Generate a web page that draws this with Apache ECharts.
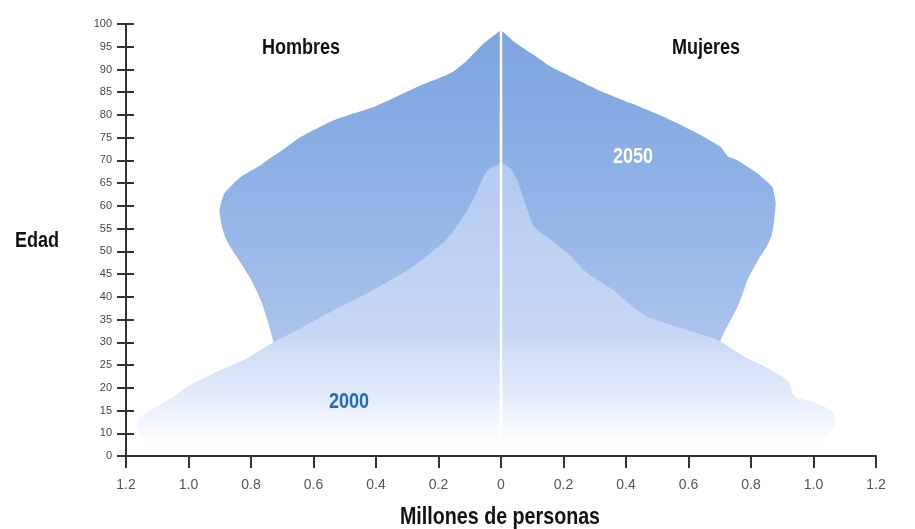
<!DOCTYPE html>
<html>
<head>
<meta charset="utf-8">
<script src="https://cdn.jsdelivr.net/npm/echarts@6/dist/echarts.min.js"></script>
<style>
html,body{margin:0;padding:0;background:#fff;}
#chart{width:915px;height:529px;}
</style>
</head>
<body>
<div id="chart"></div>
<script>
// Tick labels (the original axis skips "5")
const ageTicks = ['0','10','15','20','25','30','35','40','45','50','55','60','65','70','75','80','85','90','95','100'];
const xTicks = ['1.2','1.0','0.8','0.6','0.4','0.2','0','0.2','0.4','0.6','0.8','1.0','1.2'];

// [age, millions], top to bottom
const hombres2050 = [[98.7,0],[95.8,0.054],[92.1,0.107],[89.2,0.16],[86.2,0.267],[84,0.335],[81.8,0.405],[78.9,0.533],[75.2,0.64],[72,0.705],[70.1,0.747],[69,0.768],[66.4,0.832],[62.8,0.885],[59.1,0.901],[55.4,0.893],[53,0.882],[50.5,0.862],[48,0.838],[44.4,0.805],[41,0.78],[38.6,0.765],[35,0.748],[30.5,0.73],[25,0.72],[20,0.71]];
const mujeres2050 = [[98.7,0],[96.1,0.042],[93.6,0.095],[91,0.15],[89.2,0.2],[85.5,0.31],[82.6,0.415],[79.6,0.52],[76,0.628],[73,0.703],[71.5,0.718],[70.8,0.728],[70.1,0.755],[67.2,0.82],[64.2,0.868],[60.6,0.879],[56.2,0.873],[53.5,0.866],[51,0.85],[48,0.822],[45,0.798],[43.7,0.789],[40,0.77],[37.8,0.757],[30.5,0.703],[25,0.69],[20,0.68]];
const hombres2000 = [[69.5,0],[67.9,0.043],[65.5,0.062],[63.5,0.075],[59.1,0.107],[54.7,0.15],[52.1,0.182],[50.3,0.213],[47,0.275],[44.8,0.325],[43,0.37],[40,0.45],[37.1,0.534],[33.5,0.63],[30.1,0.726],[26.5,0.812],[23.2,0.919],[20.2,1.004],[17.7,1.057],[15.1,1.12],[12.9,1.163],[9.7,1.158],[7,1.145],[4.7,1.13]];
const mujeres2000 = [[69.5,0],[68.3,0.03],[66,0.05],[63.5,0.063],[59.1,0.085],[55.4,0.106],[52.5,0.16],[49.6,0.213],[45.2,0.277],[41.5,0.36],[38.5,0.41],[35.6,0.468],[32.7,0.595],[30.5,0.693],[26.8,0.78],[24.3,0.853],[21.7,0.917],[20,0.928],[18.8,0.932],[17.7,0.948],[16.9,1.0],[15.1,1.055],[12.9,1.071],[10.6,1.06],[6.9,1.034],[4.7,1.0]];
const centerLine = [[0,7],[0,98.7]];

// map an age label value onto the evenly spaced axis (label "5" is missing)
function agePos(a){ return a >= 10 ? a - 5 : a / 2; }

const FONT = "'Liberation Sans',Arial,sans-serif";

function polyRender(left, right, stops){
  return function(params, api){
    if (params.dataIndex !== 0) return;
    const pts = [];
    for (let i = left.length - 1; i >= 0; i--) pts.push(api.coord([-left[i][1], agePos(left[i][0])]));
    for (let i = 0; i < right.length; i++) pts.push(api.coord([right[i][1], agePos(right[i][0])]));
    return {
      type: 'polygon',
      shape: { points: pts, smooth: 0.15 },
      style: { fill: new echarts.graphic.LinearGradient(0, 0, 0, 1, stops), stroke: null }
    };
  };
}

function label(text, x, y, size, color, z){
  return { type: 'text', x: x, y: y, scaleX: 0.82, z: z || 10,
    style: { text: text, fill: color, font: 'bold ' + size + 'px ' + FONT,
      textAlign: 'center', textVerticalAlign: 'middle', verticalAlign: 'middle' } };
}

const chart = echarts.init(document.getElementById('chart'), null, {renderer:'canvas'});
const axisColor = '#333';
chart.setOption({
  animation: false,
  backgroundColor: '#fff',
  grid: { left: 126, right: 39, top: 24, bottom: 73 },
  xAxis: {
    type: 'value', min: -1.2, max: 1.2, interval: 0.2,
    splitLine: { show: false },
    axisLine: { show: true, lineStyle: { color: axisColor, width: 2 } },
    axisTick: { show: true, length: 12, lineStyle: { color: axisColor, width: 2 } },
    axisLabel: { margin: 22, fontSize: 14, color: '#555', fontFamily: FONT,
      formatter: v => xTicks[Math.round((v + 1.2) / 0.2)] }
  },
  yAxis: [{
    type: 'value', min: 0, max: 95, interval: 5,
    splitLine: { show: false },
    axisLine: { show: true, onZero: false, lineStyle: { color: axisColor, width: 2 } },
    axisTick: { show: true, length: 9, lineStyle: { color: axisColor, width: 2 } },
    axisLabel: { margin: 14, fontSize: 11, color: '#444', fontFamily: FONT,
      formatter: v => ageTicks[Math.round(v / 5)] }
  },{
    type: 'value', min: 0, max: 95, interval: 5, position: 'left',
    splitLine: { show: false },
    axisLine: { show: false, onZero: false },
    axisTick: { show: true, inside: true, length: 8, lineStyle: { color: axisColor, width: 2 } },
    axisLabel: { show: false }
  }],
  series: [
    { type: 'custom', name: '2050', data: [[0, 0]], z: 1, silent: true,
      renderItem: polyRender(hombres2050, mujeres2050, [
        {offset: 0, color: '#7ca4e0'}, {offset: 0.5, color: '#93b4e7'},
        {offset: 0.8, color: '#a8c1ec'}, {offset: 1, color: '#b2c8ef'}]) },
    { type: 'custom', name: '2000', data: [[0, 0]], z: 2, silent: true,
      renderItem: polyRender(hombres2000, mujeres2000, [
        {offset: 0, color: '#b3c9ef'}, {offset: 0.6, color: '#c7d8f5'},
        {offset: 0.82, color: '#e3ebfa'}, {offset: 1, color: '#ffffff'}]) },
    { type: 'line', data: centerLine.map(p => [p[0], agePos(p[1])]), symbol: 'none', z: 3, silent: true,
      lineStyle: { color: '#ffffff', width: 2.5 } }
  ],
  graphic: [
    label('Hombres', 301, 48, 22, '#111'),
    label('Mujeres', 706, 48, 22, '#111'),
    label('2050', 633, 157, 22, '#ffffff'),
    label('2000', 349, 402, 22, '#1f6cc0'),
    label('Edad', 37, 241, 22, '#111'),
    label('Millones de personas', 500, 517, 24, '#111')
  ]
});
</script>
</body>
</html>
